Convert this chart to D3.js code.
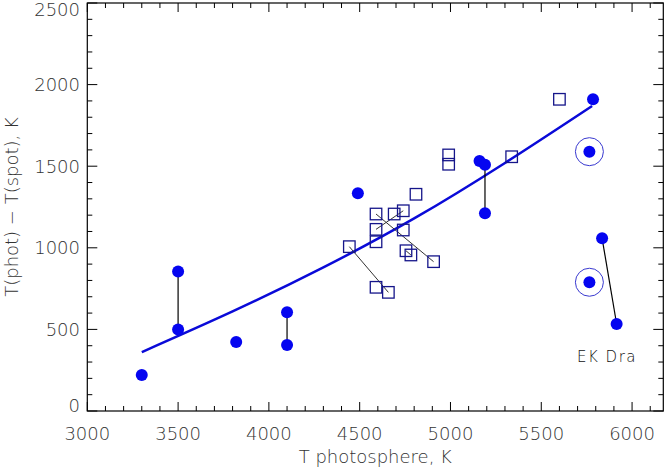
<!DOCTYPE html>
<html>
<head>
<meta charset="utf-8">
<script src="https://cdn.jsdelivr.net/npm/d3@7"></script>
<style>
  body { margin: 0; background: #fff; }
  svg text { font-family: "DejaVu Sans", sans-serif; font-weight: 200; fill: #333; }
</style>
</head>
<body>
<svg id="chart" width="666" height="468"></svg>
<script>
/*** DATA ***/
// filled circles: photosphere T, T(phot) - T(spot)
const dotT = [3300, 3500, 3500, 3820, 4100, 4100, 4490, 5160, 5190, 5190, 5785, 5835, 5915, 5765, 5765];
const dotV = [220, 855, 500, 423, 605, 404, 1334, 1532, 1509, 1211, 1910, 1058, 533, 1589, 789];
// circled dots (index into dot arrays)
const ringIdx = [13, 14];
// vertical / linked pairs of dots
const dotPairs = [[1, 2], [4, 5], [8, 9], [11, 12]];

// open squares
const sqT = [4990, 4990, 5337, 5600, 4810, 4740, 4690, 4590, 4590, 4740, 4590, 4443, 4755, 4782, 4907, 4590, 4658];
const sqV = [1569, 1512, 1558, 1910, 1328, 1227, 1207, 1207, 1113, 1109, 1037, 1007, 982, 956, 915, 758, 727];
const sqPairs = [[11, 16], [7, 14], [8, 5], [12, 13]];

// fitted curve
const fitT = [3300, 3800, 4300, 4800, 5300, 5780];
const fitV = [361, 610, 880, 1180, 1520, 1869];

const xTicks = [3000, 3500, 4000, 4500, 5000, 5500, 6000];
const yTicks = [0, 500, 1000, 1500, 2000, 2500];

/*** DIMENSIONS ***/
const L = 87.3, R = 663.3, T = 3, B = 411;
const svg = d3.select('#chart');

const x = d3.scaleLinear().domain([3000, 6172]).range([L, R]);
const y = d3.scaleLinear().domain([0, 2500]).range([B, T]);

/*** FRAME & TICKS ***/
const minorX = d3.range(3000, 6200, 100);
const minorY = d3.range(0, 2501, 100);
const ax = svg.append('g').attr('stroke', '#000').attr('stroke-width', 1);

minorX.forEach(v => {
  const len = v % 500 === 0 ? 9 : 5;
  ax.append('line').attr('x1', x(v)).attr('x2', x(v)).attr('y1', B).attr('y2', B - len);
  ax.append('line').attr('x1', x(v)).attr('x2', x(v)).attr('y1', T).attr('y2', T + len);
});
minorY.forEach(v => {
  const len = v % 500 === 0 ? 10 : 5;
  ax.append('line').attr('y1', y(v)).attr('y2', y(v)).attr('x1', L).attr('x2', L + len);
  ax.append('line').attr('y1', y(v)).attr('y2', y(v)).attr('x1', R).attr('x2', R - len);
});
svg.append('rect')
  .attr('x', L).attr('y', T).attr('width', R - L).attr('height', B - T)
  .attr('fill', 'none').attr('stroke', '#000').attr('stroke-width', 1.2);

// tick labels
svg.append('g').selectAll('text').data(xTicks).enter().append('text')
  .attr('x', d => x(d)).attr('y', 440)
  .attr('text-anchor', 'middle').attr('font-size', 18)
  .text(d => d);

svg.append('g').selectAll('text').data(yTicks).enter().append('text')
  .attr('x', 80).attr('y', d => Math.min(405, Math.max(9, y(d))) + 6.5)
  .attr('text-anchor', 'end').attr('font-size', 18)
  .text(d => d);

// axis titles
svg.append('text')
  .attr('x', (L + R) / 2).attr('y', 463)
  .attr('text-anchor', 'middle').attr('font-size', 18)
  .text('T photosphere, K');

svg.append('text')
  .attr('transform', `translate(18,${(T + B) / 2}) rotate(-90)`)
  .attr('text-anchor', 'middle').attr('font-size', 18)
  .text('T(phot) \u2212 T(spot), K');

/*** FIT CURVE ***/
const line = d3.line().x(d => x(d[0])).y(d => y(d[1])).curve(d3.curveNatural);
svg.append('path')
  .datum(fitT.map((t, i) => [t, fitV[i]]))
  .attr('d', line)
  .attr('fill', 'none').attr('stroke', '#0a0ad8').attr('stroke-width', 2.5);

/*** CONNECTORS ***/
svg.append('g').selectAll('line').data(sqPairs).enter().append('line')
  .attr('x1', d => x(sqT[d[0]])).attr('y1', d => y(sqV[d[0]]))
  .attr('x2', d => x(sqT[d[1]])).attr('y2', d => y(sqV[d[1]]))
  .attr('stroke', '#333').attr('stroke-width', 1);

svg.append('g').selectAll('line').data(dotPairs).enter().append('line')
  .attr('x1', d => x(dotT[d[0]])).attr('y1', d => y(dotV[d[0]]))
  .attr('x2', d => x(dotT[d[1]])).attr('y2', d => y(dotV[d[1]]))
  .attr('stroke', '#000').attr('stroke-width', 1.2);

/*** SQUARES ***/
const s = 11.5;
svg.append('g').selectAll('rect').data(sqT).enter().append('rect')
  .attr('x', (d, i) => x(d) - s / 2).attr('y', (d, i) => y(sqV[i]) - s / 2)
  .attr('width', s).attr('height', s)
  .attr('fill', 'none').attr('stroke', '#15158a').attr('stroke-width', 1.3);

/*** DOTS ***/
svg.append('g').selectAll('circle').data(dotT).enter().append('circle')
  .attr('cx', d => x(d)).attr('cy', (d, i) => y(dotV[i]))
  .attr('r', 6).attr('fill', '#0505f0');

svg.append('g').selectAll('circle').data(ringIdx).enter().append('circle')
  .attr('cx', i => x(dotT[i])).attr('cy', i => y(dotV[i]))
  .attr('r', 14).attr('fill', 'none').attr('stroke', '#3a3ad0').attr('stroke-width', 1);

/*** LABEL ***/
svg.append('text')
  .attr('x', 577).attr('y', 362)
  .attr('font-size', 15).attr('letter-spacing', 1.5)
  .style('fill', '#111')
  .text('EK Dra');
</script>
</body>
</html>
